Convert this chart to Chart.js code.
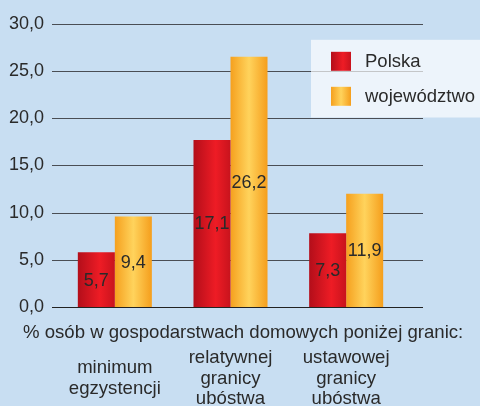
<!DOCTYPE html>
<html lang="pl">
<head>
<meta charset="utf-8">
<title>Ubóstwo</title>
<script src="https://cdn.jsdelivr.net/npm/chart.js@4.4.1/dist/chart.umd.min.js"></script>
<style>
    html, body { margin: 0; padding: 0; background: #c8def2; }
    #wrap { width: 480px; height: 406px; position: relative; }
</style>
</head>
<body>
<div id="wrap"><canvas id="chart"></canvas></div>
<script>
// Categories (multi-line tick labels)
const categories = [
    ['minimum', 'egzystencji'],
    ['relatywnej', 'granicy', 'ubóstwa'],
    ['ustawowej', 'granicy', 'ubóstwa']
];
const seriesNames = ['Polska', 'województwo'];
// Bar heights as drawn in the picture
const polskaValues = [5.8, 17.7, 7.8];
const wojewodztwoValues = [9.6, 26.5, 12.0];
// Values printed on the bars
const polskaLabels = [5.7, 17.1, 7.3];
const wojewodztwoLabels = [9.4, 26.2, 11.9];
const yTicks = [0, 5, 10, 15, 20, 25, 30];
const axisTitle = '% osób w gospodarstwach domowych poniżej granic:';

const FONT = "'Liberation Sans', Arial, sans-serif";
const TEXT = '#2a2a2a';

const redStops = [[0, '#b30e1a'], [0.6, '#ee1c25'], [1, '#c8131d']];
const orangeStops = [[0, '#f5a01e'], [0.5, '#ffd35c'], [1, '#f59e1c']];

function hGradient(ctx, x0, x1, stops) {
    const g = ctx.createLinearGradient(x0, 0, x1, 0);
    stops.forEach(s => g.addColorStop(s[0], s[1]));
    return g;
}

const fmt = v => v.toFixed(1).replace('.', ',');

// Horizontal grid lines, a bit wider than the bar area
const gridPlugin = {
    id: 'gridLines',
    beforeDatasetsDraw(chart) {
        const { ctx, chartArea, scales: { y } } = chart;
        ctx.save();
        y.ticks.forEach(t => {
            const py = Math.round(y.getPixelForValue(t.value)) + 0.5;
            ctx.strokeStyle = t.value === 0 ? '#222' : '#4a4e55';
            ctx.lineWidth = 1.2;
            ctx.beginPath();
            ctx.moveTo(chartArea.left - 5, py);
            ctx.lineTo(chartArea.right + 19, py);
            ctx.stroke();
        });
        ctx.restore();
    }
};

// Gradient fill for each bar
const gradientPlugin = {
    id: 'barGradient',
    beforeDatasetsDraw(chart) {
        const ctx = chart.ctx;
        chart.data.datasets.forEach((ds, i) => {
            const stops = i === 0 ? redStops : orangeStops;
            chart.getDatasetMeta(i).data.forEach(el => {
                const grad = hGradient(ctx, el.x - el.width / 2, el.x + el.width / 2, stops);
                el.options = Object.assign({}, el.options, { backgroundColor: grad });
            });
        });
    }
};

// Values in the middle of the bars, plus the axis caption
const labelPlugin = {
    id: 'barLabels',
    afterDatasetsDraw(chart) {
        const ctx = chart.ctx;
        const texts = [polskaLabels, wojewodztwoLabels];
        ctx.save();
        ctx.font = '18px ' + FONT;
        ctx.fillStyle = TEXT;
        ctx.textAlign = 'center';
        ctx.textBaseline = 'middle';
        chart.data.datasets.forEach((ds, i) => {
            chart.getDatasetMeta(i).data.forEach((el, j) => {
                ctx.fillText(fmt(texts[i][j]), el.x, (el.y + el.base) / 2 + 1);
            });
        });
        ctx.font = '18.6px ' + FONT;
        ctx.textAlign = 'left';
        ctx.fillText(axisTitle, 23, 333);
        ctx.restore();
    }
};

// Semi-transparent legend box in the top right corner
const legendPlugin = {
    id: 'boxLegend',
    afterDraw(chart) {
        const ctx = chart.ctx;
        const y = chart.scales.y;
        const top = y.getPixelForValue(30) + 16;
        const bottom = Math.round(y.getPixelForValue(20)) - 0.5;
        ctx.save();
        ctx.fillStyle = 'rgba(255,255,255,0.68)';
        ctx.fillRect(311, top, chart.width - 311, bottom - top);
        ctx.font = '18.5px ' + FONT;
        ctx.textBaseline = 'middle';
        chart.data.datasets.forEach((ds, i) => {
            const sy = top + 12 + i * 35;
            ctx.fillStyle = hGradient(ctx, 331, 351, i === 0 ? redStops : orangeStops);
            ctx.fillRect(331, sy, 20, 19);
            ctx.fillStyle = TEXT;
            ctx.fillText(ds.label, 365, sy + 10);
        });
        ctx.restore();
    }
};

new Chart(document.getElementById('chart'), {
    type: 'bar',
    data: {
        labels: categories,
        datasets: [
            { label: seriesNames[0], data: polskaValues, backgroundColor: '#e01a22' },
            { label: seriesNames[1], data: wojewodztwoValues, backgroundColor: '#fbb633' }
        ]
    },
    options: {
        responsive: true,
        maintainAspectRatio: false,
        animation: false,
        layout: { padding: { top: 20, left: 9, right: 76, bottom: 0 } },
        datasets: { bar: { barPercentage: 1, categoryPercentage: 0.64 } },
        plugins: { legend: { display: false }, tooltip: { enabled: false } },
        scales: {
            x: {
                grid: { display: false, drawTicks: false },
                border: { display: false },
                afterFit: axis => {
                    axis.height = 99;
                    axis.paddingLeft = 0;
                    axis.paddingRight = 0;
                },
                ticks: {
                    padding: 51,
                    color: TEXT,
                    maxRotation: 0,
                    autoSkip: false,
                    crossAlign: 'center',
                    font: { family: FONT, size: 18.6, lineHeight: 1.1 }
                }
            },
            y: {
                min: 0,
                max: 30,
                afterBuildTicks: axis => { axis.ticks = yTicks.map(v => ({ value: v })); },
                afterFit: axis => { axis.width = 48; },
                grid: { display: false, drawTicks: false },
                border: { display: false },
                ticks: {
                    padding: 13,
                    color: TEXT,
                    font: { family: FONT, size: 18 },
                    callback: v => fmt(v)
                }
            }
        }
    },
    plugins: [gridPlugin, gradientPlugin, labelPlugin, legendPlugin]
});
</script>
</body>
</html>
